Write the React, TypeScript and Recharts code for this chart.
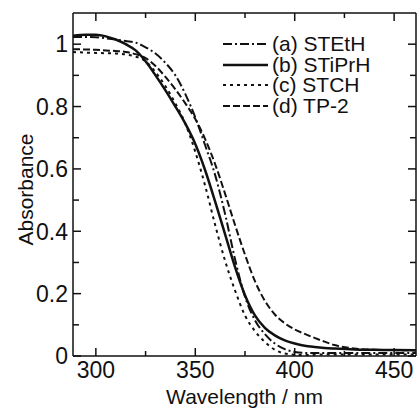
import { LineChart, Line, XAxis, YAxis, Legend, Label } from 'recharts'

// wavelength (nm) and absorbance
const wavelengths = [288.5, 295, 300, 305, 310, 315, 320, 325, 330, 335, 340, 345, 350, 355, 360, 365, 370, 375, 380, 385, 390, 395, 400, 405, 410, 415, 420, 430, 440, 450, 461]
const stEtH = [1.023, 1.023, 1.022, 1.019, 1.015, 1.01, 1.005, 0.99, 0.97, 0.94, 0.9, 0.84, 0.765, 0.675, 0.58, 0.455, 0.31, 0.19, 0.115, 0.07, 0.04, 0.022, 0.013, 0.01, 0.01, 0.01, 0.01, 0.01, 0.01, 0.01, 0.01]
const stiPrH = [1.027, 1.03, 1.03, 1.025, 1.015, 1.0, 0.98, 0.945, 0.9, 0.852, 0.8, 0.745, 0.68, 0.595, 0.495, 0.39, 0.285, 0.195, 0.13, 0.09, 0.066, 0.05, 0.04, 0.033, 0.029, 0.026, 0.024, 0.021, 0.02, 0.019, 0.018]
const stCH = [0.975, 0.973, 0.972, 0.971, 0.97, 0.967, 0.96, 0.945, 0.91, 0.865, 0.81, 0.745, 0.655, 0.545, 0.42, 0.305, 0.21, 0.13, 0.08, 0.045, 0.02, 0.008, 0.004, 0.003, 0.004, 0.005, 0.005, 0.005, 0.005, 0.005, 0.005]
const tp2 = [0.984, 0.983, 0.982, 0.98, 0.978, 0.975, 0.968, 0.955, 0.93, 0.895, 0.855, 0.81, 0.76, 0.695, 0.615, 0.52, 0.42, 0.325, 0.24, 0.177, 0.133, 0.105, 0.085, 0.071, 0.058, 0.046, 0.035, 0.024, 0.02, 0.019, 0.018]

const xTicks = [300, 325, 350, 375, 400, 425, 450]
const yTicks = [0, 0.1, 0.2, 0.3, 0.4, 0.5, 0.6, 0.7, 0.8, 0.9, 1.0]

const series = [
  { key: 'a', label: '(a) STEtH', dash: '9 3 2 3', width: 2 },
  { key: 'b', label: '(b) STiPrH', dash: undefined, width: 2.5 },
  { key: 'c', label: '(c) STCH', dash: '3 4', width: 2 },
  { key: 'd', label: '(d) TP-2', dash: '7 3', width: 2 },
]

const data = wavelengths.map((w, i) => ({ w, a: stEtH[i], b: stiPrH[i], c: stCH[i], d: tp2[i] }))

const FONT = '"Liberation Sans", Arial, sans-serif'
const INK = '#111'

function makeTick(side: 'left' | 'right' | 'top' | 'bottom') {
  return (props: any) => {
    const x = Number(props.x)
    const y = Number(props.y)
    const v = Number(props.payload.value)
    if (side === 'left' || side === 'right') {
      const major = Math.round(v * 10) % 2 === 0
      const len = major ? 8 : 6
      const dir = side === 'left' ? 1 : -1
      return (
        <g>
          <path d={`M${x},${y}H${x + dir * len}`} stroke={INK} strokeWidth={1.5} fill="none" />
          {side === 'left' && major && (
            <text x={x - 5} y={y} dy="0.36em" textAnchor="end" fontSize={23} fontFamily={FONT} fill={INK}>
              {v === 0 ? '0' : v === 1 ? '1' : v.toFixed(1)}
            </text>
          )}
        </g>
      )
    }
    const major = v % 50 === 0
    const len = major ? 8 : 5
    const dir = side === 'bottom' ? -1 : 1
    return (
      <g>
        <path d={`M${x},${y}V${y + dir * len}`} stroke={INK} strokeWidth={1.5} fill="none" />
        {side === 'bottom' && major && (
          <text x={x} y={y + 22} textAnchor="middle" fontSize={23} fontFamily={FONT} fill={INK}>
            {v}
          </text>
        )}
      </g>
    )
  }
}

function renderLegend() {
  return (
    <div style={{ fontFamily: FONT, fontSize: 21, color: INK }}>
      {series.map((s) => (
        <div key={s.key} style={{ display: 'flex', alignItems: 'center', height: 20.7, whiteSpace: 'nowrap' }}>
          <svg width={45} height={20} style={{ marginRight: 4 }}>
            <line x1={0} x2={45} y1={10} y2={10} stroke={INK} strokeWidth={s.width} strokeDasharray={s.dash} />
          </svg>
          <span style={{ lineHeight: '20px' }}>{s.label}</span>
        </div>
      ))}
    </div>
  )
}

export default function App() {
  return (
    <div style={{ position: 'absolute', left: 0, top: 0, width: 417, height: 409, background: '#fff' }}>
      <LineChart width={417} height={409} data={data} margin={{ top: 12, right: 0, left: 0, bottom: 0 }}>
        <XAxis
          dataKey="w"
          type="number"
          domain={[288.5, 461]}
          ticks={xTicks}
          interval={0}
          height={53}
          tickSize={0}
          tickMargin={0}
          tickLine={false}
          tick={makeTick('bottom')}
          axisLine={{ stroke: INK, strokeWidth: 1.5 }}
          allowDataOverflow
        >
          <Label value="Wavelength / nm" position="insideBottom" offset={5} fontSize={21} fontFamily={FONT} fill={INK} />
        </XAxis>
        <XAxis
          xAxisId="top"
          orientation="top"
          dataKey="w"
          type="number"
          domain={[288.5, 461]}
          ticks={xTicks}
          interval={0}
          height={1}
          tickSize={0}
          tickMargin={0}
          tickLine={false}
          tick={makeTick('top')}
          axisLine={{ stroke: INK, strokeWidth: 1.5 }}
          allowDataOverflow
        />
        <YAxis
          domain={[0, 1.1]}
          ticks={yTicks}
          interval={0}
          width={73}
          tickSize={0}
          tickMargin={0}
          tickLine={false}
          tick={makeTick('left')}
          axisLine={{ stroke: INK, strokeWidth: 1.5 }}
          allowDataOverflow
          label={{
            content: (p: any) => {
              const vb = p.viewBox
              const cx = 25
              const cy = vb.y + vb.height / 2 + 5
              return (
                <text x={cx} y={cy} transform={`rotate(-90 ${cx} ${cy})`} textAnchor="middle" dominantBaseline="central" fontSize={21} fontFamily={FONT} fill={INK}>
                  Absorbance
                </text>
              )
            },
          }}
        />
        <YAxis
          yAxisId="right"
          orientation="right"
          domain={[0, 1.1]}
          ticks={yTicks}
          interval={0}
          width={1}
          tickSize={0}
          tickMargin={0}
          tickLine={false}
          tick={makeTick('right')}
          axisLine={{ stroke: INK, strokeWidth: 1.5 }}
          allowDataOverflow
        />
        {series.map((s) => (
          <Line
            key={s.key}
            dataKey={s.key}
            type="monotone"
            stroke={INK}
            strokeWidth={s.width}
            strokeDasharray={s.dash}
            dot={false}
            isAnimationActive={false}
          />
        ))}
        <Legend
          layout="vertical"
          align="center"
          verticalAlign="middle"
          content={renderLegend}
          wrapperStyle={{ left: 223, top: 33.5, width: 180 }}
        />
      </LineChart>
    </div>
  )
}
